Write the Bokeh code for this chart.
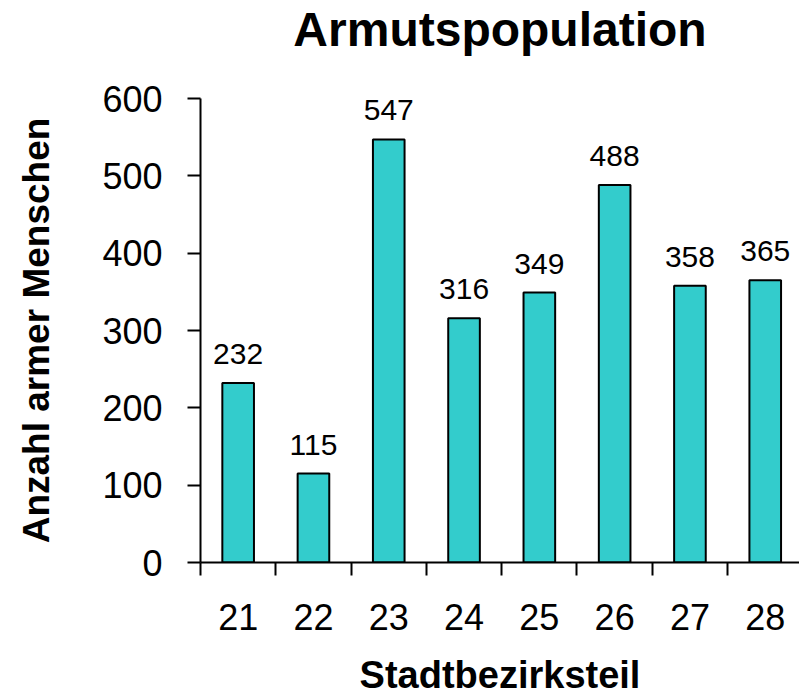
from bokeh.plotting import figure
from bokeh.models import ColumnDataSource, LabelSet, FixedTicker, Range1d, Title
from bokeh.core.properties import value
from bokeh.embed import file_html
from bokeh.resources import INLINE

categories = ["21", "22", "23", "24", "25", "26", "27", "28"]
values = [232, 115, 547, 316, 349, 488, 358, 365]
y_ticks = [0, 100, 200, 300, 400, 500, 600]

FONT = "Liberation Sans"
positions = [i + 0.5 for i in range(len(categories))]
source = ColumnDataSource(dict(x=positions, top=values, label=[str(v) for v in values]))

p = figure(width=799, height=698, output_backend="svg", toolbar_location=None,
           x_range=Range1d(0, 7.955), y_range=Range1d(0, 600),
           min_border_left=200, min_border_right=0, min_border_top=0, min_border_bottom=136)

p.title.text = "Armutspopulation"
p.title.text_font = FONT
p.title.text_font_size = "48px"
p.title.text_font_style = "bold"
p.title.align = "center"
p.title.text_color = "black"
p.title.standoff = 0
p.title.offset = -8

# invisible spacer between title and plot area
spacer = Title(text=" ", text_font_size="10px", standoff=30)
p.add_layout(spacer, "above")

p.vbar(x="x", top="top", width=0.42, source=source, fill_color="#33CCCC",
       line_color="black", line_width=2)

labels = LabelSet(x="x", y="top", text="label", source=source, text_align="center",
                  text_baseline="alphabetic", y_offset=19, text_font=value(FONT),
                  text_font_size="30px", text_color="black")
p.add_layout(labels)

p.xgrid.visible = False
p.ygrid.visible = False
p.outline_line_color = None
p.background_fill_color = "white"
p.border_fill_color = "white"

xa = p.xaxis[0]
xa.ticker = FixedTicker(ticks=positions, minor_ticks=list(range(len(categories) + 1)))
xa.major_label_overrides = {pos: c for pos, c in zip(positions, categories)}
xa.major_tick_out = 0
xa.major_tick_in = 0
xa.minor_tick_out = 13
xa.minor_tick_in = 0
xa.minor_tick_line_color = "black"
xa.minor_tick_line_width = 2
xa.axis_line_color = "black"
xa.axis_line_width = 2
xa.major_label_text_font = FONT
xa.major_label_text_font_size = "36px"
xa.major_label_text_color = "black"
xa.major_label_standoff = 28
xa.axis_label = "Stadtbezirksteil"
xa.axis_label_text_font = FONT
xa.axis_label_text_font_size = "38px"
xa.axis_label_text_font_style = "bold"
xa.axis_label_text_color = "black"
xa.axis_label_standoff = 21

ya = p.yaxis[0]
ya.ticker = FixedTicker(ticks=y_ticks)
ya.major_tick_out = 13
ya.major_tick_in = 0
ya.major_tick_line_width = 2
ya.major_tick_line_color = "black"
ya.minor_tick_line_color = None
ya.axis_line_color = "black"
ya.axis_line_width = 2
ya.major_label_text_font = FONT
ya.major_label_text_font_size = "36px"
ya.major_label_text_color = "black"
ya.major_label_standoff = 25
ya.axis_label = "Anzahl armer Menschen"
ya.axis_label_text_font = FONT
ya.axis_label_text_font_size = "37px"
ya.axis_label_text_font_style = "bold"
ya.axis_label_text_color = "black"
ya.axis_label_standoff = 42

open("out.html", "w").write(file_html(p, INLINE))
